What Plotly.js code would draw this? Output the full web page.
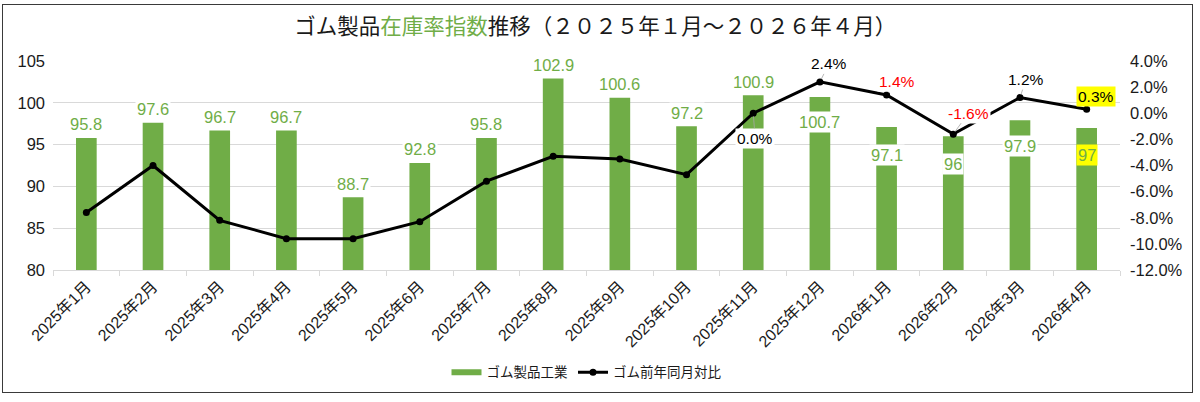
<!DOCTYPE html>
<html>
<head>
<meta charset="utf-8">
<script src="https://cdn.plot.ly/plotly-3.0.1.min.js"></script>
<style>
  html, body { margin: 0; padding: 0; background: #ffffff; }
  #wrap { position: relative; width: 1200px; height: 402px; overflow: hidden; }
  #chart { position: absolute; left: 0; top: 0; width: 1200px; height: 402px; }
  #frame { position: absolute; left: 2px; top: 4px; width: 1189px; height: 387px;
           border: 1.5px solid #3a3a3a; pointer-events: none; }
</style>
</head>
<body>
<div id="wrap">
  <div id="chart"></div>
  <div id="frame"></div>
</div>
<script>
// ---- data ----
const categories = ['2025年1月','2025年2月','2025年3月','2025年4月','2025年5月','2025年6月',
  '2025年7月','2025年8月','2025年9月','2025年10月','2025年11月','2025年12月',
  '2026年1月','2026年2月','2026年3月','2026年4月'];
const inventoryIndex = [95.8, 97.6, 96.7, 96.7, 88.7, 92.8, 95.8, 102.9, 100.6, 97.2, 100.9, 100.7, 97.1, 96, 97.9, 97];
const yoyPercent = [-7.6, -4.0, -8.2, -9.6, -9.6, -8.3, -5.2, -3.3, -3.5, -4.7, 0.0, 2.4, 1.4, -1.6, 1.2, 0.3];
const yoyLabelText = [null, null, null, null, null, null, null, null, null, null, '0.0%', '2.4%', '1.4%', '-1.6%', '1.2%', '0.3%'];
const leftTicks = [80, 85, 90, 95, 100, 105];
const rightTicks = [-12, -10, -8, -6, -4, -2, 0, 2, 4];
const rightTickText = ['-12.0%', '-10.0%', '-8.0%', '-6.0%', '-4.0%', '-2.0%', '0.0%', '2.0%', '4.0%'];
const seriesNames = ['ゴム製品工業', 'ゴム前年同月対比'];

// ---- styles ----
const GREEN = '#70AD47';
const FONT = 'Liberation Sans, Arial, Noto Sans CJK JP, sans-serif';
// bar label vertical offset (px); positive = above bar top
const barLabelShift = [13.5, 13.5, 13.5, 13.5, 13.5, 13.5, 13.5, 13.5, 13.5, 13.5, 13.5, -25, -28, -28, -26, -27.5];
const barLabelBg = ['#fff','#fff','#fff','#fff','#fff','#fff','#fff','#fff','#fff','#fff','#fff','#fff','#fff','#fff','#fff','#FFFF00'];
// line label offsets from point (px): ax right, ay down
const lineLabelAx = [0,0,0,0,0,0,0,0,0,0, 2, 9, 10, 15, 6, 9];
const lineLabelAy = [0,0,0,0,0,0,0,0,0,0, 25, -18, -13, -21, -18, -13];
const lineLabelColor = [null,null,null,null,null,null,null,null,null,null,'#000','#000','#FF0000','#FF0000','#000','#000'];
const lineLabelBg = [null,null,null,null,null,null,null,null,null,null,'#fff','#fff','#fff','#fff','#fff','#FFFF00'];

const traces = [
  { // legend proxy for the bar series
    type: 'scatter', mode: 'lines', x: [null], y: [null], name: seriesNames[0],
    line: { color: GREEN, width: 6 }, hoverinfo: 'skip', showlegend: true
  },
  {
    type: 'bar', x: categories, y: inventoryIndex, name: seriesNames[0],
    marker: { color: GREEN }, width: 0.31, showlegend: false, hoverinfo: 'none'
  },
  {
    type: 'scatter', mode: 'lines+markers', x: categories, y: yoyPercent, yaxis: 'y2',
    name: seriesNames[1], line: { color: '#000000', width: 3 },
    marker: { color: '#000000', size: 7 }, cliponaxis: false, hoverinfo: 'none'
  }
];

const annotations = [];
categories.forEach((c, i) => {
  annotations.push({
    x: c, y: inventoryIndex[i], xref: 'x', yref: 'y',
    text: String(inventoryIndex[i]), showarrow: false,
    yshift: barLabelShift[i], yanchor: 'middle',
    font: { family: FONT, size: 16.5, color: GREEN },
    bgcolor: barLabelBg[i], borderpad: 1
  });
  if (yoyLabelText[i]) {
    annotations.push({
      x: c, y: yoyPercent[i], xref: 'x', yref: 'y2',
      text: yoyLabelText[i], showarrow: true, arrowhead: 0, arrowwidth: 0.8,
      arrowcolor: '#a6a6a6', standoff: 3, ax: lineLabelAx[i], ay: lineLabelAy[i],
      font: { family: FONT, size: 15.5, color: lineLabelColor[i] },
      bgcolor: lineLabelBg[i], borderpad: 1
    });
  }
});

const layout = {
  width: 1200, height: 402,
  paper_bgcolor: 'rgba(0,0,0,0)', plot_bgcolor: 'rgba(0,0,0,0)',
  margin: { l: 53, r: 80, t: 61, b: 132, autoexpand: false },
  title: {
    text: 'ゴム製品<span style="color:#70AD47">在庫率指数</span>推移（２０２５年１月～２０２６年４月）',
    font: { family: 'Noto Sans CJK JP, sans-serif', size: 21.5, color: '#1a1a1a' },
    x: 0.496, xref: 'container', xanchor: 'center',
    y: 0.933, yref: 'container', yanchor: 'middle'
  },
  font: { family: FONT, color: '#1a1a1a' },
  xaxis: {
    type: 'category', range: [-0.5, 15.5], tickangle: -45, automargin: false,
    tickfont: { family: FONT, size: 16, color: '#1a1a1a' },
    ticks: 'outside', tickson: 'boundaries', ticklen: 5, tickcolor: '#d9d9d9',
    showline: true, linecolor: '#d9d9d9', linewidth: 1, showgrid: false, fixedrange: true
  },
  yaxis: {
    range: [80, 105], tickvals: leftTicks, gridcolor: '#d9d9d9', gridwidth: 1, automargin: false,
    zeroline: false, showline: false, ticks: '', ticklabelstandoff: 7,
    tickfont: { family: FONT, size: 16.5, color: '#1a1a1a' }, fixedrange: true
  },
  yaxis2: {
    overlaying: 'y', side: 'right', range: [-12, 4], tickmode: 'array',
    tickvals: rightTicks, ticktext: rightTickText, automargin: false,
    showgrid: false, zeroline: false, showline: false,
    ticks: '', ticklabelstandoff: 9,
    tickfont: { family: FONT, size: 16.5, color: '#1a1a1a' }, fixedrange: true
  },
  legend: {
    orientation: 'h', x: 0.5, xanchor: 'center', y: -0.49, yanchor: 'middle',
    font: { family: 'Noto Sans CJK JP, sans-serif', size: 13.5, color: '#1a1a1a' },
    itemwidth: 30, bgcolor: 'rgba(0,0,0,0)'
  },
  annotations: annotations,
  showlegend: true
};

Plotly.newPlot('chart', traces, layout, { displayModeBar: false, staticPlot: true });
</script>
</body>
</html>
